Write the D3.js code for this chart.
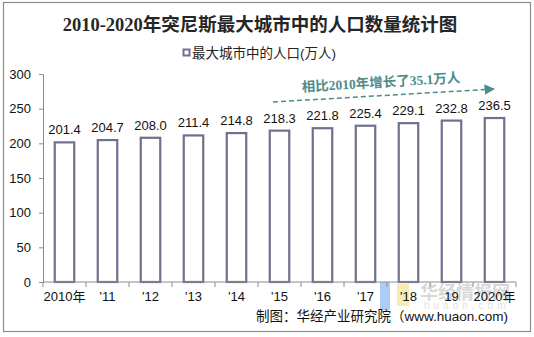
<!DOCTYPE html>
<html>
<head>
<meta charset="utf-8">
<script src="https://cdn.jsdelivr.net/npm/d3@7"></script>
<style>
  body { margin: 0; background: #fff; }
  svg { display: block; }
</style>
</head>
<body>
<script>
// Chart data
var years = ['2010年', "'11", "'12", "'13", "'14", "'15", "'16", "'17", "'18", "19", '2020年'];
var population = [201.4, 204.7, 208.0, 211.4, 214.8, 218.3, 221.8, 225.4, 229.1, 232.8, 236.5];
var yTicks = [0, 50, 100, 150, 200, 250, 300];

var titleText = '2010-2020年突尼斯最大城市中的人口数量统计图';
var legendText = '最大城市中的人口(万人)';
var noteText = '相比2010年增长了35.1万人';
var sourceText = '制图：华经产业研究院（www.huaon.com)';

// Graph dimensions
var W = 534, H = 337;
var margin = {top: 74, right: 18, bottom: 55, left: 43},
    width = 516 - margin.left,
    height = 282 - margin.top;

var sans = 'Arial, "Liberation Sans", "Noto Sans CJK SC", sans-serif';
var serif = '"Liberation Serif", "DejaVu Serif", "Noto Sans CJK SC", serif';

var svg = d3.select('body')
    .append('svg')
    .attr('width', W)
    .attr('height', H);

// outer frame
svg.append('rect')
    .attr('x', 3.5).attr('y', 2.5)
    .attr('width', 527).attr('height', 329)
    .attr('fill', '#fff')
    .attr('stroke', '#8c8c8c')
    .attr('stroke-width', 1.2);

// Watermark (behind everything else)
svg.append('rect').attr('x', 380).attr('y', 282).attr('width', 10).attr('height', 28)
    .attr('fill', '#9dc3f2').attr('opacity', 0.85);
svg.append('rect').attr('x', 397).attr('y', 284).attr('width', 12).attr('height', 22)
    .attr('fill', '#f5e6a8').attr('opacity', 0.85);
svg.append('text')
    .attr('x', 420).attr('y', 299)
    .attr('font-family', '"Noto Sans CJK SC", sans-serif')
    .attr('font-weight', 'bold')
    .attr('font-size', 18)
    .attr('fill', '#cfcfcf').attr('opacity', 0.8)
    .text('华经情报网');
svg.append('text')
    .attr('x', 424).attr('y', 309)
    .attr('font-family', sans)
    .attr('font-size', 10)
    .attr('letter-spacing', 4)
    .attr('fill', '#e2e2e2')
    .text('huaon.com');

// Title
svg.append('text')
    .attr('x', 260).attr('y', 31)
    .attr('text-anchor', 'middle')
    .attr('font-family', serif)
    .attr('font-weight', 'bold')
    .attr('font-size', 18.5)
    .attr('fill', '#262626')
    .text(titleText);

// Legend
svg.append('rect')
    .attr('x', 183.5).attr('y', 49.5)
    .attr('width', 6).attr('height', 6)
    .attr('fill', '#fff')
    .attr('stroke', '#6f6f8e')
    .attr('stroke-width', 2);
svg.append('text')
    .attr('x', 192).attr('y', 58)
    .attr('font-family', sans)
    .attr('font-size', 13.5)
    .attr('fill', '#222')
    .text(legendText);

// Scales
var x = d3.scaleBand().domain(years).range([0, width]).paddingInner(0.5).paddingOuter(0.25);
var xb = d3.scaleBand().domain(years).range([0, width]);
var y = d3.scaleLinear().domain([0, 300]).range([height, 0]);

var chart = svg.append('g')
    .attr('transform', 'translate(' + margin.left + ',' + margin.top + ')');

// Y axis
var yAxis = d3.axisLeft(y).tickValues(yTicks).tickSize(4).tickPadding(8);
var gy = chart.append('g').call(yAxis);
gy.select('.domain').attr('stroke', '#8c8c8c');
gy.selectAll('.tick line').attr('stroke', '#8c8c8c');
gy.selectAll('.tick text')
    .attr('font-family', sans)
    .attr('font-size', 13)
    .attr('fill', '#111');

// Bars
chart.selectAll('.bar')
    .data(population)
    .enter().append('rect')
    .attr('class', 'bar')
    .attr('x', function(d, i) { return x(years[i]) + 1; })
    .attr('width', x.bandwidth() - 2)
    .attr('y', function(d) { return y(d); })
    .attr('height', function(d) { return height - y(d); })
    .attr('fill', '#fff')
    .attr('stroke', '#6f6f8e')
    .attr('stroke-width', 2.2);

// Value labels
chart.selectAll('.val')
    .data(population)
    .enter().append('text')
    .attr('class', 'val')
    .attr('x', function(d, i) { return x(years[i]) + x.bandwidth() / 2; })
    .attr('y', function(d) { return y(d) - 8; })
    .attr('text-anchor', 'middle')
    .attr('font-family', sans)
    .attr('font-size', 13)
    .attr('fill', '#111')
    .text(function(d) { return d.toFixed(1); });

// X axis with ticks on category boundaries
var gx = chart.append('g').attr('transform', 'translate(0,' + height + ')');
gx.append('line')
    .attr('x1', 0).attr('x2', width)
    .attr('stroke', '#8c8c8c');
gx.selectAll('.xt')
    .data(years.concat(['end']))
    .enter().append('line')
    .attr('x1', function(d, i) { return i < years.length ? xb(d) : width; })
    .attr('x2', function(d, i) { return i < years.length ? xb(d) : width; })
    .attr('y1', 0).attr('y2', 5)
    .attr('stroke', '#8c8c8c');
gx.selectAll('.xl')
    .data(years)
    .enter().append('text')
    .attr('x', function(d) { return xb(d) + xb.bandwidth() / 2; })
    .attr('y', 19)
    .attr('text-anchor', 'middle')
    .attr('font-family', sans)
    .attr('font-size', 13)
    .attr('fill', '#111')
    .text(function(d) { return d; });

// Growth note with dashed arrow
svg.append('defs').append('marker')
    .attr('id', 'arr')
    .attr('viewBox', '0 0 10 10')
    .attr('refX', 9).attr('refY', 5)
    .attr('markerWidth', 7).attr('markerHeight', 7)
    .attr('orient', 'auto')
    .append('path')
    .attr('d', 'M0,0L10,5L0,10Z')
    .attr('fill', '#4d8c8c');
svg.append('line')
    .attr('x1', 273).attr('y1', 102)
    .attr('x2', 494).attr('y2', 89)
    .attr('stroke', '#4d8c8c')
    .attr('stroke-width', 1.5)
    .attr('stroke-dasharray', '5,3')
    .attr('marker-end', 'url(#arr)');
svg.append('text')
    .attr('x', 381).attr('y', 87)
    .attr('text-anchor', 'middle')
    .attr('font-family', serif)
    .attr('font-weight', 'bold')
    .attr('font-size', 13.5)
    .attr('fill', '#4d8c8c')
    .attr('transform', 'rotate(-3.4,381,82)')
    .text(noteText);

// Source
svg.append('text')
    .attr('x', 508).attr('y', 321)
    .attr('text-anchor', 'end')
    .attr('font-family', sans)
    .attr('font-size', 13.5)
    .attr('fill', '#111')
    .text(sourceText);
</script>
</body>
</html>
